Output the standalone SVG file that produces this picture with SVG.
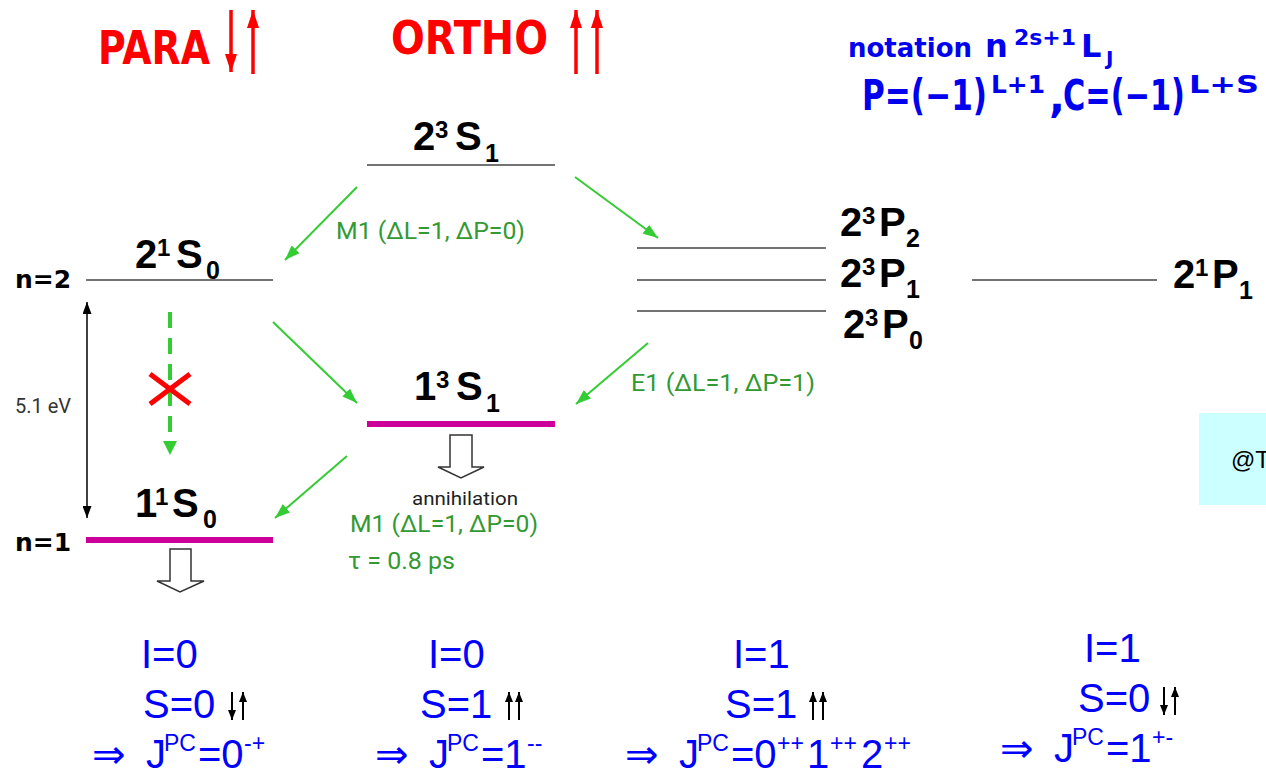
<svg xmlns="http://www.w3.org/2000/svg" width="1266" height="775" viewBox="0 0 1266 775">
<style>
.lvl{font-family:"Liberation Sans","DejaVu Sans",sans-serif;font-weight:bold;fill:#000}
.big{font-size:40px}
.sup{font-size:24px}
.sub{font-size:25px}
.nlab{font-family:"DejaVu Sans",sans-serif;font-weight:bold;font-size:25px;fill:#000}
.glab{font-family:Roboto,"Liberation Sans",sans-serif;font-size:23px;fill:#339933}
.blue{font-family:"Liberation Sans","DejaVu Sans",sans-serif;fill:#0000ff}
.bm{font-size:40px}
.bs{font-size:23px}
.title{font-family:"DejaVu Sans",sans-serif;font-weight:bold;fill:#ff0000}
.note{font-family:"DejaVu Sans",sans-serif;font-weight:bold;fill:#0000ee}
.thin{stroke:#444;stroke-width:1.5;fill:none}
.mag{stroke:#cc0099;stroke-width:6;fill:none}
.garrow{stroke:#33cc33;stroke-width:2;fill:none;marker-end:url(#gh)}
.hollow{fill:#fff;stroke:#333;stroke-width:1.5}
.spin{stroke:#000;stroke-width:2;fill:none}
.redarr{stroke:#ff0000;stroke-width:3.5;fill:none}
</style>
<defs>
<marker id="gh" markerUnits="userSpaceOnUse" markerWidth="15" markerHeight="11" refX="15" refY="5.5" orient="auto"><path d="M0,0 L15,5.5 L0,11 z" fill="#33cc33"/></marker>
<marker id="kh" markerUnits="userSpaceOnUse" markerWidth="12" markerHeight="9" refX="12" refY="4.5" orient="auto-start-reverse"><path d="M0,0 L12,4.5 L0,9 z" fill="#000"/></marker>
<marker id="sh" markerUnits="userSpaceOnUse" markerWidth="10" markerHeight="8" refX="10" refY="4" orient="auto"><path d="M0,0 L10,4 L0,8 z" fill="#000"/></marker>
<marker id="rh" markerUnits="userSpaceOnUse" markerWidth="18" markerHeight="12" refX="18" refY="6" orient="auto"><path d="M0,0 L18,6 L0,12 z" fill="#ff0000"/></marker>
</defs>
<rect width="1266" height="775" fill="#fff"/>

<g id="titles">
<text class="title" x="98" y="64" font-size="46" textLength="112" lengthAdjust="spacingAndGlyphs">PARA</text>
<line class="redarr" x1="231" y1="10" x2="231" y2="72" marker-end="url(#rh)"/>
<line class="redarr" x1="253" y1="74" x2="253" y2="10" marker-end="url(#rh)"/>
<text class="title" x="391" y="54" font-size="46" textLength="157" lengthAdjust="spacingAndGlyphs">ORTHO</text>
<line class="redarr" x1="576" y1="74" x2="576" y2="10" marker-end="url(#rh)"/>
<line class="redarr" x1="597" y1="74" x2="597" y2="10" marker-end="url(#rh)"/>
</g>

<g id="notation">
<text class="note" x="848" y="57" font-size="27" textLength="124" lengthAdjust="spacingAndGlyphs">notation</text>
<text class="note" x="985" y="57" font-size="32">n</text>
<text class="note" x="1014" y="45" font-size="21" textLength="62" lengthAdjust="spacingAndGlyphs">2s+1</text>
<text class="note" x="1081" y="57" font-size="32">L</text>
<text class="note" x="1106" y="65" font-size="20">J</text>
<text class="note" x="862" y="110" font-size="42" textLength="125" lengthAdjust="spacingAndGlyphs">P=(−1)</text>
<text class="note" x="991" y="93" font-size="25" textLength="54" lengthAdjust="spacingAndGlyphs">L+1</text>
<text class="note" x="1049" y="112" font-size="42">,</text>
<text class="note" x="1063" y="110" font-size="42" textLength="122" lengthAdjust="spacingAndGlyphs">C=(−1)</text>
<text class="note" x="1189" y="93" font-size="25" textLength="70" lengthAdjust="spacingAndGlyphs">L+S</text>
</g>

<g id="n-labels">
<text class="nlab" x="15" y="288">n=2</text>
<text class="nlab" x="15" y="551">n=1</text>
<text x="15" y="413" font-family="Roboto,'Liberation Sans',sans-serif" font-size="20" fill="#333">5.1 eV</text>
</g>

<g id="level-23S1">
<line class="thin" x1="367" y1="165" x2="555" y2="165"/>
<text class="lvl"><tspan class="big" x="413" y="150">2</tspan><tspan class="sup" x="435" y="138">3</tspan><tspan class="big" x="455" y="150">S</tspan><tspan class="sub" x="485" y="162">1</tspan></text>
</g>

<g id="level-21S0">
<line class="thin" x1="86" y1="280" x2="273" y2="280"/>
<text class="lvl"><tspan class="big" x="135" y="268">2</tspan><tspan class="sup" x="157" y="256">1</tspan><tspan class="big" x="176" y="268">S</tspan><tspan class="sub" x="206" y="279">0</tspan></text>
</g>

<g id="level-13S1">
<line class="mag" x1="367" y1="424" x2="555" y2="424"/>
<text class="lvl"><tspan class="big" x="414" y="400">1</tspan><tspan class="sup" x="436" y="388">3</tspan><tspan class="big" x="456" y="400">S</tspan><tspan class="sub" x="486" y="412">1</tspan></text>
<path class="hollow" d="M450,435 L472,435 L472,467 L484,467 L461,478 L438,467 L450,467 Z"/>
<text x="412" y="505" font-family="Roboto,'Liberation Sans',sans-serif" font-size="19" fill="#222" textLength="106" lengthAdjust="spacingAndGlyphs">annihilation</text>
</g>

<g id="level-11S0">
<line class="mag" x1="86" y1="540" x2="273" y2="540"/>
<text class="lvl"><tspan class="big" x="135" y="517">1</tspan><tspan class="sup" x="155" y="505">1</tspan><tspan class="big" x="172" y="517">S</tspan><tspan class="sub" x="203" y="528">0</tspan></text>
<path class="hollow" d="M170,549 L191,549 L191,581 L204,581 L180,592 L157,581 L170,581 Z"/>
</g>

<g id="level-23P">
<line class="thin" x1="637" y1="248" x2="826" y2="248"/>
<line class="thin" x1="637" y1="280" x2="826" y2="280"/>
<line class="thin" x1="637" y1="311" x2="826" y2="311"/>
<text class="lvl"><tspan class="big" x="840" y="236">2</tspan><tspan class="sup" x="862" y="224">3</tspan><tspan class="big" x="879" y="236">P</tspan><tspan class="sub" x="906" y="247">2</tspan></text>
<text class="lvl"><tspan class="big" x="840" y="287">2</tspan><tspan class="sup" x="862" y="275">3</tspan><tspan class="big" x="879" y="287">P</tspan><tspan class="sub" x="906" y="298">1</tspan></text>
<text class="lvl"><tspan class="big" x="843" y="338">2</tspan><tspan class="sup" x="865" y="326">3</tspan><tspan class="big" x="882" y="338">P</tspan><tspan class="sub" x="909" y="349">0</tspan></text>
</g>

<g id="level-21P1">
<line class="thin" x1="972" y1="280" x2="1157" y2="280"/>
<text class="lvl"><tspan class="big" x="1173" y="288">2</tspan><tspan class="sup" x="1195" y="276">1</tspan><tspan class="big" x="1212" y="288">P</tspan><tspan class="sub" x="1239" y="299">1</tspan></text>
</g>

<g id="connectors">
<line class="garrow" x1="357" y1="187" x2="285" y2="260"/>
<line class="garrow" x1="575" y1="177" x2="658" y2="238"/>
<line class="garrow" x1="273" y1="322" x2="357" y2="403"/>
<line class="garrow" x1="648" y1="343" x2="576" y2="404"/>
<line class="garrow" x1="347" y1="456" x2="275" y2="518"/>
<line x1="87" y1="302" x2="87" y2="518" stroke="#000" stroke-width="1.5" marker-start="url(#kh)" marker-end="url(#kh)"/>
<line x1="170" y1="312" x2="170" y2="442" stroke="#33cc33" stroke-width="4" stroke-dasharray="16 10"/>
<path d="M163,441 L177,441 L170,455 Z" fill="#33cc33"/>
<path d="M150,374 L190,404 M190,374 L150,404" stroke="#ff0000" stroke-width="5" fill="none"/>
</g>

<g id="transition-labels">
<text class="glab" x="336" y="239" textLength="189" lengthAdjust="spacingAndGlyphs">M1 (ΔL=1, ΔP=0)</text>
<text class="glab" x="631" y="391" textLength="184" lengthAdjust="spacingAndGlyphs">E1 (ΔL=1, ΔP=1)</text>
<text class="glab" x="350" y="532" textLength="188" lengthAdjust="spacingAndGlyphs">M1 (ΔL=1, ΔP=0)</text>
<text class="glab" x="348" y="569" textLength="107" lengthAdjust="spacingAndGlyphs">τ = 0.8 ps</text>
</g>

<g id="watermark">
<rect x="1199" y="413" width="67" height="92" fill="#ccffff"/>
<text x="1231" y="468" font-family="'Liberation Sans',sans-serif" font-size="24" fill="#000">@T</text>
</g>

<g id="col-1">
<text class="blue bm" x="141" y="668">I=0</text>
<text class="blue bm" x="143" y="718">S=0</text>
<line class="spin" x1="232" y1="692" x2="232" y2="720" marker-end="url(#sh)"/>
<line class="spin" x1="243" y1="720" x2="243" y2="692" marker-end="url(#sh)"/>
<text class="blue"><tspan class="bm" x="92" y="768">⇒</tspan><tspan class="bm" x="146" y="768">J</tspan><tspan class="bs" x="164" y="751">PC</tspan><tspan class="bm" x="198" y="768">=0</tspan><tspan class="bs" x="244" y="751">-+</tspan></text>
</g>

<g id="col-2">
<text class="blue bm" x="428" y="668">I=0</text>
<text class="blue bm" x="420" y="718">S=1</text>
<line class="spin" x1="509" y1="720" x2="509" y2="692" marker-end="url(#sh)"/>
<line class="spin" x1="519" y1="720" x2="519" y2="692" marker-end="url(#sh)"/>
<text class="blue"><tspan class="bm" x="375" y="768">⇒</tspan><tspan class="bm" x="429" y="768">J</tspan><tspan class="bs" x="447" y="751">PC</tspan><tspan class="bm" x="481" y="768">=1</tspan><tspan class="bs" x="527" y="751">--</tspan></text>
</g>

<g id="col-3">
<text class="blue bm" x="733" y="668">I=1</text>
<text class="blue bm" x="725" y="718">S=1</text>
<line class="spin" x1="813" y1="720" x2="813" y2="692" marker-end="url(#sh)"/>
<line class="spin" x1="823" y1="720" x2="823" y2="692" marker-end="url(#sh)"/>
<text class="blue"><tspan class="bm" x="625" y="768">⇒</tspan><tspan class="bm" x="679" y="768">J</tspan><tspan class="bs" x="697" y="751">PC</tspan><tspan class="bm" x="731" y="768">=0</tspan><tspan class="bs" x="777" y="751">++</tspan><tspan class="bm" x="807" y="768">1</tspan><tspan class="bs" x="830" y="751">++</tspan><tspan class="bm" x="861" y="768">2</tspan><tspan class="bs" x="884" y="751">++</tspan></text>
</g>

<g id="col-4">
<text class="blue bm" x="1084" y="662">I=1</text>
<text class="blue bm" x="1078" y="712">S=0</text>
<line class="spin" x1="1164" y1="687" x2="1164" y2="715" marker-end="url(#sh)"/>
<line class="spin" x1="1175" y1="715" x2="1175" y2="687" marker-end="url(#sh)"/>
<text class="blue"><tspan class="bm" x="1000" y="762">⇒</tspan><tspan class="bm" x="1054" y="762">J</tspan><tspan class="bs" x="1072" y="745">PC</tspan><tspan class="bm" x="1106" y="762">=1</tspan><tspan class="bs" x="1152" y="745">+-</tspan></text>
</g>
</svg>
